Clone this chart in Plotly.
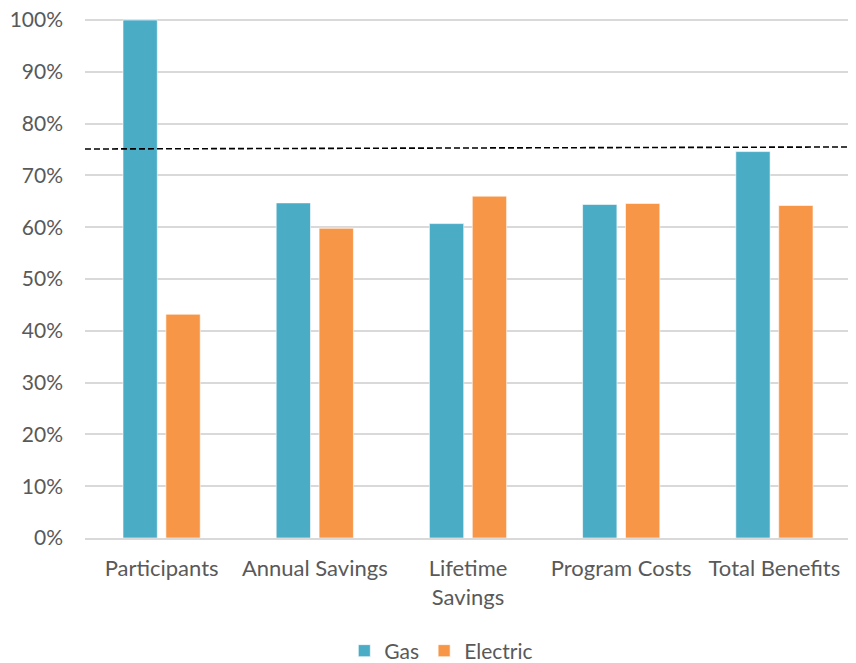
import plotly.graph_objects as go

categories = ["Participants", "Annual Savings", "Lifetime<br>Savings", "Program Costs", "Total Benefits"]
gas = [1.000, 0.647, 0.607, 0.644, 0.746]
electric = [0.432, 0.598, 0.660, 0.646, 0.642]
target_start, target_end = 0.751, 0.755
tick_vals = [0, 0.1, 0.2, 0.3, 0.4, 0.5, 0.6, 0.7, 0.8, 0.9, 1.0]
tick_text = ["0%", "10%", "20%", "30%", "40%", "50%", "60%", "70%", "80%", "90%", "100%"]

FONT = "Lato"
fig = go.Figure()
fig.add_trace(go.Bar(name="Gas", x=categories, y=gas, marker=dict(color="#4BACC6", line=dict(color="rgba(255,255,255,0.6)", width=1))))
fig.add_trace(go.Bar(name="Electric", x=categories, y=electric, marker=dict(color="#F79646", line=dict(color="rgba(255,255,255,0.6)", width=1))))

fig.add_shape(type="line", xref="paper", yref="y", x0=0, x1=1.0065, y0=target_start, y1=target_end,
              line=dict(color="black", width=1.6, dash="6px,3px"))

fig.update_layout(
    width=848, height=655,
    margin=dict(l=77, r=5, t=11, b=125, autoexpand=False),
    plot_bgcolor="white", paper_bgcolor="white",
    barmode="group", bargap=0.44, bargroupgap=0.2,
    font=dict(family=FONT, size=20, color="#595959"),
    legend=dict(orientation="h", xref="container", yref="container", x=0.511, xanchor="center",
                y=0.0183, yanchor="middle",
                font=dict(size=21, color="#595959"), itemwidth=30, traceorder="normal"),
    showlegend=True,
)
fig.update_yaxes(range=[0, 1.002], tickvals=tick_vals, ticktext=tick_text, showgrid=True,
                 gridcolor="#D9D9D9", gridwidth=1.5, zeroline=False, showline=False, automargin=False,
                 ticks="", ticklabelstandoff=21, ticklabeloverflow="allow",
                 tickfont=dict(size=21, color="#595959"))
fig.update_xaxes(showline=True, linecolor="#D9D9D9", linewidth=2, ticks="", automargin=False,
                 ticklabelstandoff=10, ticklabeloverflow="allow", tickfont=dict(size=22, color="#595959"))

fig.write_html("out.html")
